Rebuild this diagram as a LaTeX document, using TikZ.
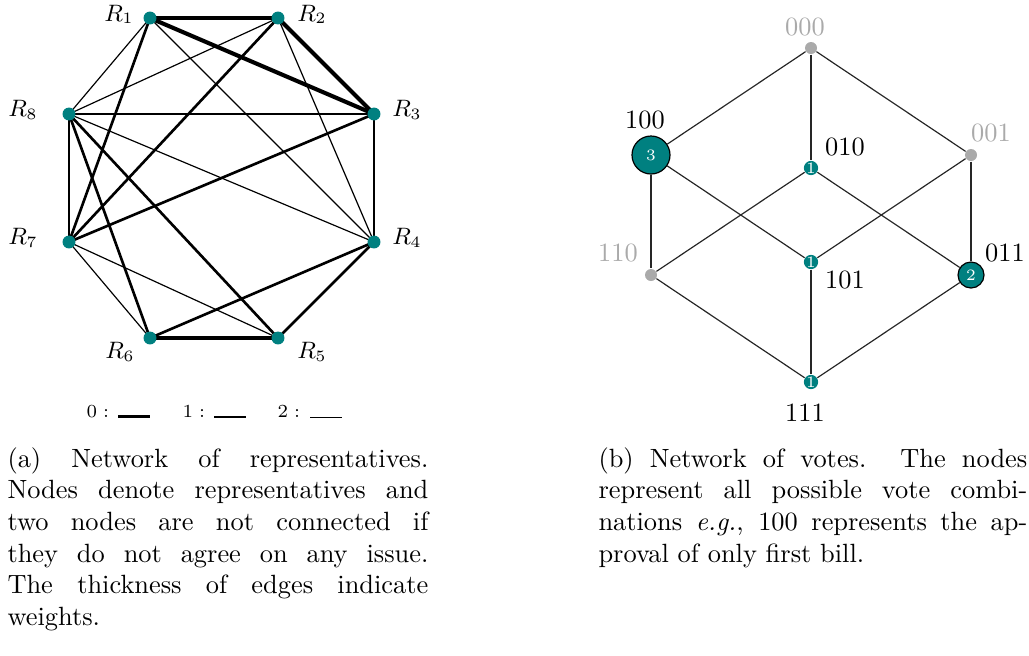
\documentclass[tikz,border=0pt]{standalone}
\usetikzlibrary{backgrounds}
\definecolor{teal}{HTML}{008080}
\definecolor{lgray}{HTML}{AAAAAA}
\hbadness=10000
\begin{document}
\begin{tikzpicture}[x=0.379pt,y=-0.379pt,
  rep/.style={circle,fill=teal,inner sep=0pt,minimum size=4.9pt},
  rlab/.style={inner sep=0pt,font=\fontsize{9}{11}\selectfont},
  w0/.style={line width=1.55pt},
  w1/.style={line width=1.0pt},
  w2/.style={line width=0.45pt},
  greydot/.style={circle,fill=lgray,inner sep=0pt,minimum size=4.55pt},
  vote/.style={circle,fill=teal,inner sep=0pt,text=white,font=\fontsize{6}{7}\selectfont},
  vlab/.style={inner sep=0pt,font=\fontsize{10}{12}\selectfont},
  glab/.style={vlab,text=lgray},
  hedge/.style={line width=0.45pt,black!85},
  captext/.style={inner sep=0pt,anchor=north west,align=justify,font=\fontsize{10}{12}\selectfont},
  leglab/.style={inner sep=0pt,anchor=base west,font=\fontsize{7}{8}\selectfont}]
\useasboundingbox (0,0) rectangle (1029,655);
% ---------- (a) network of representatives ----------
\node[rep] (R1) at (150,18) {};
\node[rep] (R2) at (278,18) {};
\node[rep] (R3) at (374,114) {};
\node[rep] (R4) at (374,242) {};
\node[rep] (R5) at (278,338) {};
\node[rep] (R6) at (150,338) {};
\node[rep] (R7) at (69,242) {};
\node[rep] (R8) at (69,114) {};
\node[rlab] (L1) at (119,14.5) {$R_1$};
\node[rlab] (L2) at (312,14.5) {$R_2$};
\node[rlab] (L3) at (407,110) {$R_3$};
\node[rlab] (L4) at (407,238) {$R_4$};
\node[rlab] (L5) at (312,352) {$R_5$};
\node[rlab] (L6) at (120,352) {$R_6$};
\node[rlab] (L7) at (23,238) {$R_7$};
\node[rlab] (L8) at (23,110) {$R_8$};
\begin{scope}[on background layer]
  \draw[w0] (R1.center) -- (R2.center);
  \draw[w0] (R1.center) -- (R3.center);
  \draw[w0] (R2.center) -- (R3.center);
  \draw[w0] (R6.center) -- (R5.center);
  \draw[w1] (R8.center) -- (R7.center);
  \draw[w1] (R1.center) -- (R7.center);
  \draw[w1] (R2.center) -- (R7.center);
  \draw[w1] (R3.center) -- (R7.center);
  \draw[w1] (R4.center) -- (R6.center);
  \draw[w1] (R4.center) -- (R5.center);
  \draw[w1] (R8.center) -- (R5.center);
  \draw[w1] (R8.center) -- (R6.center);
  \draw[w2] (R1.center) -- (R8.center);
  \draw[w2] (R1.center) -- (R4.center);
  \draw[w2] (R2.center) -- (R8.center);
  \draw[w2] (R2.center) -- (R4.center);
  \draw[w2] (R3.center) -- (R8.center);
  \draw[w2] (R3.center) -- (R4.center);
  \draw[w2] (R4.center) -- (R8.center);
  \draw[w2] (R5.center) -- (R7.center);
  \draw[w2] (R6.center) -- (R7.center);
\end{scope}
% legend
\node[leglab] (g0) at (86,417) {$0:$};
\node[leglab] (g1) at (182,417) {$1:$};
\node[leglab] (g2) at (277,417) {$2:$};
\coordinate (a0) at (118,416.3); \coordinate (b0) at (150,416.3);
\coordinate (a1) at (214,416.8); \coordinate (b1) at (246,416.8);
\coordinate (a2) at (310,417.3); \coordinate (b2) at (342,417.3);
\draw[line width=1.25pt] (a0) -- (b0);
\draw[line width=0.8pt] (a1) -- (b1);
\draw[line width=0.4pt] (a2) -- (b2);
% ---------- (b) network of votes ----------
\node[greydot] (v000) at (811,48) {};
\node[vote,draw=black,line width=0.45pt,minimum size=14.4pt] (v100) at (651,155) {3};
\node[vote,minimum size=4.55pt] (v010) at (811,168) {1};
\node[greydot] (v001) at (971,155) {};
\node[greydot] (v110) at (651,275) {};
\node[vote,minimum size=4.55pt] (v101) at (811,262) {1};
\node[vote,draw=black,line width=0.45pt,minimum size=9.85pt] (v011) at (971,275) {2};
\node[vote,minimum size=4.55pt] (v111) at (811,382) {1};
\begin{scope}[on background layer]
  \draw[hedge] (v000) -- (v100);
  \draw[hedge] (v000) -- (v010);
  \draw[hedge] (v000) -- (v001);
  \draw[hedge] (v100) -- (v110);
  \draw[hedge] (v100) -- (v101);
  \draw[hedge] (v010) -- (v110);
  \draw[hedge] (v010) -- (v011);
  \draw[hedge] (v001) -- (v101);
  \draw[hedge] (v001) -- (v011);
  \draw[hedge] (v110) -- (v111);
  \draw[hedge] (v101) -- (v111);
  \draw[hedge] (v011) -- (v111);
\end{scope}
\node[glab] (t000) at (805,27) {000};
\node[vlab] (t100) at (645,120) {100};
\node[vlab] (t010) at (845,147) {010};
\node[glab] (t001) at (991,133) {001};
\node[glab] (t110) at (618,253) {110};
\node[vlab] (t011) at (1005,253) {011};
\node[vlab] (t101) at (845,280) {101};
\node[vlab] (t111) at (805,413) {111};
% ---------- captions ----------
\node[captext,text width=159.5pt] (capa) at (7,447) {(a) Network of representatives.\linebreak Nodes denote representatives and\linebreak two nodes are not connected if\linebreak they do not agree on any issue.\linebreak The thickness of edges indicate\linebreak weights.};
\node[captext,text width=162.5pt] (capb) at (598,447) {(b) Network of votes. The nodes\linebreak represent all possible vote combi-\linebreak nations \textit{e.g.}, 100 represents the ap-\linebreak proval of only first bill.};
\end{tikzpicture}
\end{document}
